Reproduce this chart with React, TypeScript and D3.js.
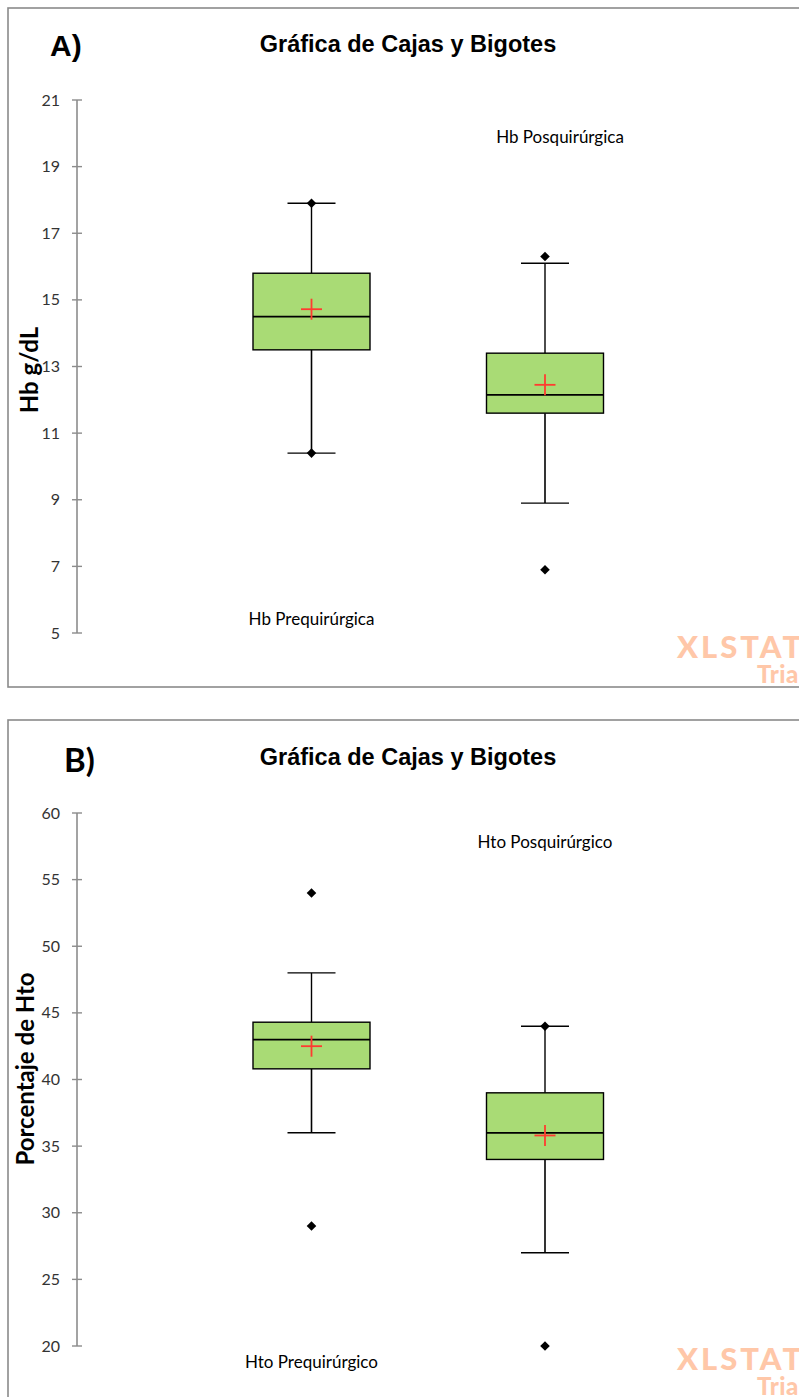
import React from "react";
import * as d3 from "d3";

// ---------- Data: Panel A (Hb g/dL) ----------
const hbCategories = ["Hb Prequirúrgica", "Hb Posquirúrgica"];
const hbMin = [10.4, 6.9];
const hbWhiskerLow = [10.4, 8.9];
const hbQ1 = [13.5, 11.6];
const hbMedian = [14.5, 12.15];
const hbQ3 = [15.8, 13.4];
const hbWhiskerHigh = [17.9, 16.1];
const hbMax = [17.9, 16.3];
const hbMean = [14.72, 12.45];
const hbTicks = [5, 7, 9, 11, 13, 15, 17, 19, 21];

// ---------- Data: Panel B (Hto %) ----------
const htoCategories = ["Hto Prequirúrgico", "Hto Posquirúrgico"];
const htoMin = [29, 20];
const htoWhiskerLow = [36, 27];
const htoQ1 = [40.8, 34];
const htoMedian = [43, 36];
const htoQ3 = [44.3, 39];
const htoWhiskerHigh = [48, 44];
const htoMax = [54, 44];
const htoMean = [42.5, 35.8];
const htoTicks = [20, 25, 30, 35, 40, 45, 50, 55, 60];

const TITLE = "Gráfica de Cajas y Bigotes";

type PanelProps = {
  top: number;
  bottom: number;
  letter: string;
  letterFont: string;
  letterSize: number;
  letterX: number;
  letterY: number;
  titleY: number;
  yTitle: string;
  yTitleX: number;
  yTitleY: number;
  categories: string[];
  min: number[];
  wLow: number[];
  q1: number[];
  med: number[];
  q3: number[];
  wHigh: number[];
  max: number[];
  mean: number[];
  ticks: number[];
  yRange: [number, number];
  topLabelY: number;
  topLabelDx: number;
  bottomLabelY: number;
  wmY: number;
};

function Panel(p: PanelProps) {
  const domain = d3.extent(p.ticks) as [number, number];
  const y = d3.scaleLinear().domain(domain).range(p.yRange);
  const x = d3.scalePoint<string>().domain(p.categories).range([311.5, 545]);
  const axisX = 77;
  const boxHalf = 58.5;
  const capHalf = 24;
  const diamond = d3.symbol().type(d3.symbolSquare).size(46)() as string;

  return (
    <g>
      <rect
        x={8}
        y={p.top}
        width={900}
        height={p.bottom - p.top}
        fill="#fff"
        stroke="#8a8a8a"
        strokeWidth={1.6}
      />
      <text
        x={p.letterX}
        y={p.letterY}
        fontFamily={p.letterFont}
        fontWeight="bold"
        fontSize={p.letterSize}
        fill="#000"
      >
        {p.letter}
      </text>
      <text
        x={408}
        y={p.titleY}
        textAnchor="middle"
        fontFamily="'Liberation Sans', Arial, sans-serif"
        fontWeight="bold"
        fontSize={23.5}
        fill="#000"
      >
        {TITLE}
      </text>
      {/* y axis */}
      <line x1={axisX} x2={axisX} y1={y(domain[0])} y2={y(domain[1])} stroke="#8c8c8c" strokeWidth={1.6} />
      {p.ticks.map((t) => (
        <g key={t}>
          <line x1={axisX - 5} x2={axisX + 5} y1={y(t)} y2={y(t)} stroke="#8c8c8c" strokeWidth={1.4} />
          <text
            x={60}
            y={y(t)}
            dy="0.35em"
            textAnchor="end"
            fontFamily="Lato, 'Open Sans', sans-serif"
            fontSize={16}
            fill="#333"
          >
            {t}
          </text>
        </g>
      ))}
      <text
        transform={`translate(${p.yTitleX},${p.yTitleY}) rotate(-90)`}
        textAnchor="middle"
        fontFamily="Lato, 'Open Sans', sans-serif"
        fontWeight="bold"
        fontSize={24}
        fill="#000"
      >
        {p.yTitle}
      </text>
      {/* boxes */}
      {p.categories.map((c, i) => {
        const cx = x(c) as number;
        return (
          <g key={c}>
            <line x1={cx} x2={cx} y1={y(p.wHigh[i])} y2={y(p.q3[i])} stroke="#000" strokeWidth={1.4} />
            <line x1={cx} x2={cx} y1={y(p.q1[i])} y2={y(p.wLow[i])} stroke="#000" strokeWidth={1.6} />
            <line x1={cx - capHalf} x2={cx + capHalf} y1={y(p.wHigh[i])} y2={y(p.wHigh[i])} stroke="#000" strokeWidth={1.4} />
            <line x1={cx - capHalf} x2={cx + capHalf} y1={y(p.wLow[i])} y2={y(p.wLow[i])} stroke="#000" strokeWidth={1.4} />
            <rect
              x={cx - boxHalf}
              y={y(p.q3[i])}
              width={boxHalf * 2}
              height={y(p.q1[i]) - y(p.q3[i])}
              fill="#a9db75"
              stroke="#000"
              strokeWidth={1.4}
            />
            <line x1={cx - boxHalf} x2={cx + boxHalf} y1={y(p.med[i])} y2={y(p.med[i])} stroke="#000" strokeWidth={1.8} />
            <g stroke="#ff3b30" strokeWidth={1.8}>
              <line x1={cx - 10.5} x2={cx + 10.5} y1={y(p.mean[i])} y2={y(p.mean[i])} />
              <line x1={cx} x2={cx} y1={y(p.mean[i]) - 10.5} y2={y(p.mean[i]) + 10.5} />
            </g>
            <path d={diamond} transform={`translate(${cx},${y(p.max[i])}) rotate(45)`} fill="#000" />
            <path d={diamond} transform={`translate(${cx},${y(p.min[i])}) rotate(45)`} fill="#000" />
          </g>
        );
      })}
      {/* category labels */}
      <text
        x={(x(p.categories[0]) as number)}
        y={p.bottomLabelY}
        textAnchor="middle"
        fontFamily="Lato, 'Open Sans', sans-serif"
        fontSize={17}
        fill="#000"
      >
        {p.categories[0]}
      </text>
      <text
        x={(x(p.categories[1]) as number) + p.topLabelDx}
        y={p.topLabelY}
        textAnchor="middle"
        fontFamily="Lato, 'Open Sans', sans-serif"
        fontSize={17}
        fill="#000"
      >
        {p.categories[1]}
      </text>
      {/* watermark */}
      <text
        x={677}
        y={p.wmY}
        fontFamily="Lato, sans-serif"
        fontWeight="900"
        fontSize={31}
        letterSpacing={3}
        fill="#ffc7a8"
      >
        XLSTAT
      </text>
      <text
        x={757}
        y={p.wmY + 25}
        fontFamily="Lato, sans-serif"
        fontWeight="900"
        fontSize={24}
        letterSpacing={0.5}
        fill="#ffc7a8"
      >
        Trial
      </text>
    </g>
  );
}

export default function App() {
  return (
    <svg
      width={799}
      height={1397}
      style={{ position: "absolute", left: 0, top: 0, background: "#fff" }}
    >
      <Panel
        top={8}
        bottom={687}
        letter="A)"
        letterFont="'Liberation Sans', Arial, sans-serif"
        letterSize={30}
        letterX={50}
        letterY={56}
        titleY={52}
        yTitle="Hb g/dL"
        yTitleX={38}
        yTitleY={370}
        categories={hbCategories}
        min={hbMin}
        wLow={hbWhiskerLow}
        q1={hbQ1}
        med={hbMedian}
        q3={hbQ3}
        wHigh={hbWhiskerHigh}
        max={hbMax}
        mean={hbMean}
        ticks={hbTicks}
        yRange={[633, 100]}
        topLabelY={143}
        topLabelDx={15}
        bottomLabelY={625}
        wmY={658}
      />
      <Panel
        top={720}
        bottom={1420}
        letter="B)"
        letterFont="Lato, 'Open Sans', sans-serif"
        letterSize={33}
        letterX={64}
        letterY={772}
        titleY={765}
        yTitle="Porcentaje de Hto"
        yTitleX={34}
        yTitleY={1069}
        categories={htoCategories}
        min={htoMin}
        wLow={htoWhiskerLow}
        q1={htoQ1}
        med={htoMedian}
        q3={htoQ3}
        wHigh={htoWhiskerHigh}
        max={htoMax}
        mean={htoMean}
        ticks={htoTicks}
        yRange={[1346, 813]}
        topLabelY={848}
        topLabelDx={0}
        bottomLabelY={1368}
        wmY={1370}
      />
    </svg>
  );
}
